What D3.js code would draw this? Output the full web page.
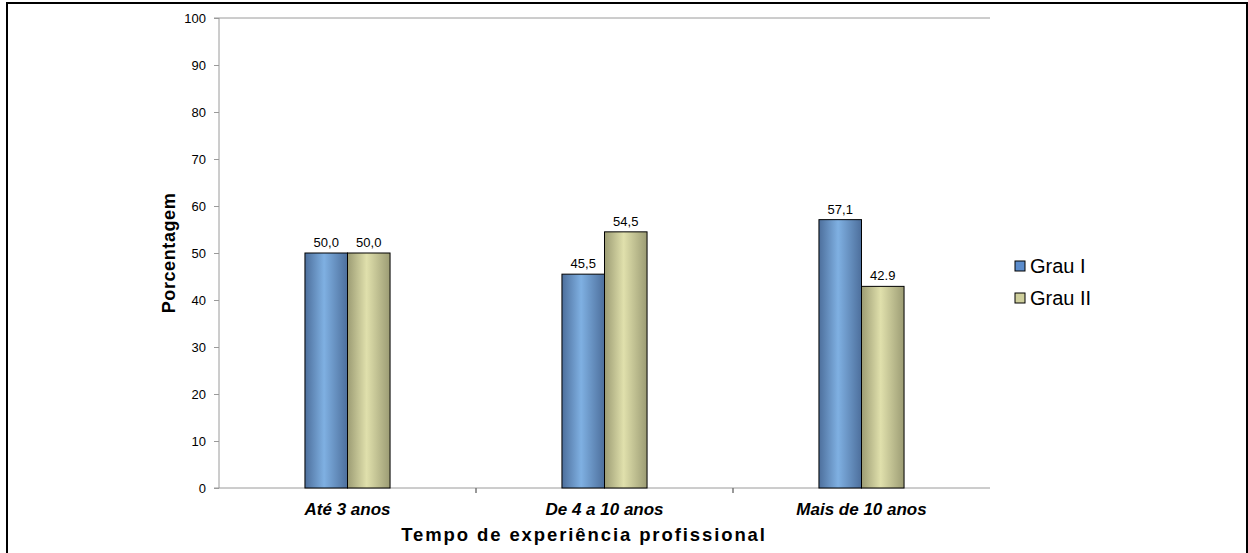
<!DOCTYPE html>
<html>
<head>
<meta charset="utf-8">
<script src="https://cdn.jsdelivr.net/npm/d3@7"></script>
<style>
  html, body { margin: 0; padding: 0; background: #fff; }
  svg { display: block; font-family: "Liberation Sans", Arial, sans-serif; }
</style>
</head>
<body>
<svg id="chart" width="1248" height="553"></svg>
<script>
// Data
const categories = ["Até 3 anos", "De 4 a 10 anos", "Mais de 10 anos"];
const seriesNames = ["Grau I", "Grau II"];
const grauI = [50.0, 45.5, 57.1];
const grauII = [50.0, 54.5, 42.9];
const labelsI = ["50,0", "45,5", "57,1"];
const labelsII = ["50,0", "54,5", "42.9"];
const yTicks = [0, 10, 20, 30, 40, 50, 60, 70, 80, 90, 100];

const svg = d3.select("#chart");

// outer frame
svg.append("rect")
  .attr("x", 7).attr("y", 3)
  .attr("width", 1240).attr("height", 560)
  .attr("fill", "none").attr("stroke", "#000").attr("stroke-width", 2);

const plot = { left: 219, right: 990, top: 18, bottom: 488 };

const x = d3.scaleBand().domain(categories).range([plot.left, plot.right]);
const xInner = d3.scaleBand().domain(seriesNames)
  .range([0, x.bandwidth()]).paddingInner(0).paddingOuter(2.02);
const y = d3.scaleLinear().domain([0, 100]).range([plot.bottom, plot.top]);

// gradients for the cylinder-like shading of the bars
const defs = svg.append("defs");
function grad(id, edge, mid) {
  const g = defs.append("linearGradient").attr("id", id)
    .attr("x1", "0%").attr("x2", "100%").attr("y1", "0%").attr("y2", "0%");
  g.append("stop").attr("offset", "0%").attr("stop-color", edge);
  g.append("stop").attr("offset", "45%").attr("stop-color", mid);
  g.append("stop").attr("offset", "100%").attr("stop-color", edge);
}
grad("gBlue", "#4d6f9c", "#7fb0e2");
grad("gGreen", "#9c9c74", "#e0e0ac");
const fills = { "Grau I": "url(#gBlue)", "Grau II": "url(#gGreen)" };
const legendFills = { "Grau I": "#5b8ccc", "Grau II": "#cfcf9c" };

// top plot line
svg.append("line")
  .attr("x1", plot.left).attr("x2", plot.right)
  .attr("y1", y(100)).attr("y2", y(100))
  .attr("stroke", "#9a9a9a").attr("stroke-width", 1);

// y axis
const yAxis = d3.axisLeft(y).tickValues(yTicks).tickSize(5).tickPadding(8)
  .tickFormat(d3.format("d"));
const gy = svg.append("g").attr("transform", `translate(${plot.left},0)`).call(yAxis);
gy.select(".domain").attr("stroke", "#9a9a9a").attr("d", `M-5,${y(100)}H0V${y(0)}H-5`);
gy.selectAll(".tick line").attr("stroke", "#9a9a9a");
gy.selectAll(".tick text").attr("font-size", 13).attr("fill", "#000")
  .attr("font-family", "Liberation Sans, Arial, sans-serif");

// x axis
const xAxis = d3.axisBottom(x).tickSize(0).tickPadding(15);
const gx = svg.append("g").attr("transform", `translate(0,${plot.bottom})`).call(xAxis);
gx.select(".domain").attr("stroke", "#9a9a9a").attr("d", `M${plot.left},0H${plot.right}`);
gx.selectAll(".tick text").attr("font-size", 17).attr("font-weight", "bold")
  .attr("font-style", "italic").attr("fill", "#000")
  .attr("font-family", "Liberation Sans, Arial, sans-serif");
// category separators
svg.append("g").selectAll("line")
  .data(categories.slice(1))
  .join("line")
  .attr("x1", d => x(d)).attr("x2", d => x(d))
  .attr("y1", plot.bottom).attr("y2", plot.bottom + 5)
  .attr("stroke", "#777").attr("stroke-width", 1.5);

// bars
const rows = categories.map((c, i) => ({
  cat: c,
  vals: [
    { s: "Grau I", v: grauI[i], lab: labelsI[i] },
    { s: "Grau II", v: grauII[i], lab: labelsII[i] }
  ]
}));

const groups = svg.append("g").selectAll("g")
  .data(rows).join("g")
  .attr("transform", d => `translate(${x(d.cat)},0)`);

groups.selectAll("rect")
  .data(d => d.vals).join("rect")
  .attr("x", d => xInner(d.s))
  .attr("y", d => y(d.v))
  .attr("width", xInner.bandwidth())
  .attr("height", d => y(0) - y(d.v))
  .attr("fill", d => fills[d.s])
  .attr("stroke", "#000").attr("stroke-width", 1);

groups.selectAll("text.val")
  .data(d => d.vals).join("text")
  .attr("class", "val")
  .attr("x", d => xInner(d.s) + xInner.bandwidth() / 2)
  .attr("y", d => y(d.v) - 6)
  .attr("text-anchor", "middle")
  .attr("font-size", 13).attr("fill", "#000")
  .text(d => d.lab);

// axis titles
svg.append("text")
  .attr("transform", `translate(175,${(plot.top + plot.bottom) / 2}) rotate(-90)`)
  .attr("text-anchor", "middle")
  .attr("font-size", 18).attr("font-weight", "bold")
  .attr("letter-spacing", 0.6)
  .text("Porcentagem");

svg.append("text")
  .attr("x", 584).attr("y", 541)
  .attr("text-anchor", "middle")
  .attr("font-size", 18.5).attr("font-weight", "bold")
  .attr("letter-spacing", 1.9)
  .text("Tempo de experiência profissional");

// legend
const legend = svg.append("g").attr("transform", "translate(1015,261)");
const li = legend.selectAll("g").data(seriesNames).join("g")
  .attr("transform", (d, i) => `translate(0,${i * 32})`);
li.append("rect")
  .attr("x", 0).attr("y", 0).attr("width", 10).attr("height", 10)
  .attr("fill", d => legendFills[d]).attr("stroke", "#000").attr("stroke-width", 1);
li.append("text")
  .attr("x", 15).attr("y", 12)
  .attr("font-size", 20).attr("fill", "#000")
  .text(d => d);
</script>
</body>
</html>
